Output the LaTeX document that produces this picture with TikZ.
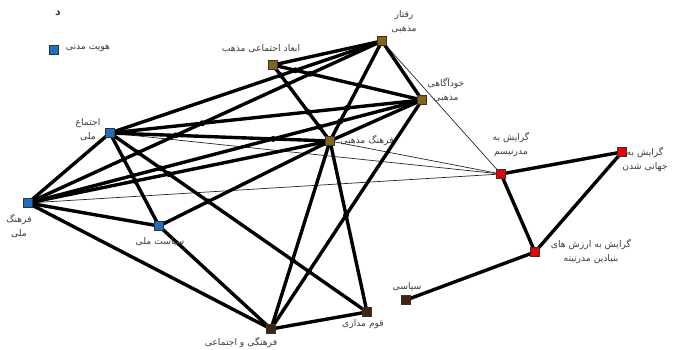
\documentclass[tikz,border=0pt]{standalone}
\usepackage{fontspec}
\newfontfamily\arabicfont[Script=Arabic]{DejaVu Sans}
\TeXXeTstate=1
\newcommand{\fa}[1]{{\arabicfont\beginR #1\endR}}
\definecolor{nblue}{RGB}{30,110,195}
\definecolor{nolive}{RGB}{135,100,20}
\definecolor{nbrown}{RGB}{66,36,14}
\definecolor{nred}{RGB}{235,0,0}
\definecolor{ntext}{RGB}{60,60,60}
\tikzset{
  sq/.style={draw=black!80, line width=0.4pt, minimum size=9pt, inner sep=0pt, rectangle},
  lbl/.style={text=ntext, font=\fontsize{9.2}{14}\selectfont, align=center, inner sep=0pt},
  strong/.style={line width=3.4pt, black},
  weak/.style={line width=0.7pt, black!85},
  xdot/.style={fill=black}
}
\begin{document}
\begin{tikzpicture}[x=1pt,y=-1pt]
\useasboundingbox (0,0) rectangle (673,350);
\coordinate (A) at (382,41);
\coordinate (B) at (273,65);
\coordinate (C) at (422,100);
\coordinate (D) at (330,141);
\coordinate (E) at (110,133);
\coordinate (F) at (28,203);
\coordinate (G) at (159,226);
\coordinate (H) at (271,329);
\coordinate (I) at (367,312);
\coordinate (J) at (406,300);
\coordinate (K) at (501,174);
\coordinate (L) at (622,152);
\coordinate (M) at (535,252);
% weak ties
\foreach \a/\b in {A/K,D/K,E/K,F/K}
  \draw[weak] (\a) -- (\b);
% strong ties
\foreach \a/\b in {A/B,A/C,A/D,A/E,A/F,B/C,B/D,C/E,C/F,C/D,C/H,D/E,D/F,D/G,D/H,D/I,E/F,E/G,E/I,F/G,F/H,G/H,H/I,J/M,K/L,K/M,L/M}
  \draw[strong] (\a) -- (\b);
% dots where strong ties cross
\fill[xdot] (intersection of A--D and B--C) circle[radius=3pt];
\fill[xdot] (intersection of A--D and C--E) circle[radius=3pt];
\fill[xdot] (intersection of A--D and C--F) circle[radius=3pt];
\fill[xdot] (intersection of A--E and B--C) circle[radius=3pt];
\fill[xdot] (intersection of A--E and B--D) circle[radius=3pt];
\fill[xdot] (intersection of A--F and B--C) circle[radius=3pt];
\fill[xdot] (intersection of A--F and B--D) circle[radius=3pt];
\fill[xdot] (intersection of A--F and C--E) circle[radius=3pt];
\fill[xdot] (intersection of A--F and D--E) circle[radius=3pt];
\fill[xdot] (intersection of A--F and E--G) circle[radius=3pt];
\fill[xdot] (intersection of A--F and E--I) circle[radius=3pt];
\fill[xdot] (intersection of B--D and C--E) circle[radius=3pt];
\fill[xdot] (intersection of B--D and C--F) circle[radius=3pt];
\fill[xdot] (intersection of C--F and D--E) circle[radius=3pt];
\fill[xdot] (intersection of C--F and E--G) circle[radius=3pt];
\fill[xdot] (intersection of C--F and E--I) circle[radius=3pt];
\fill[xdot] (intersection of C--H and D--I) circle[radius=3pt];
\fill[xdot] (intersection of C--H and E--I) circle[radius=3pt];
\fill[xdot] (intersection of D--F and E--G) circle[radius=3pt];
\fill[xdot] (intersection of D--F and E--I) circle[radius=3pt];
\fill[xdot] (intersection of D--G and E--I) circle[radius=3pt];
\fill[xdot] (intersection of D--H and E--I) circle[radius=3pt];
% squares
\node[sq, fill=nolive] (nA) at (A) {};
\node[sq, fill=nolive] (nB) at (B) {};
\node[sq, fill=nolive] (nC) at (C) {};
\node[sq, fill=nolive] (nD) at (D) {};
\node[sq, fill=nblue] (nE) at (E) {};
\node[sq, fill=nblue] (nF) at (F) {};
\node[sq, fill=nblue] (nG) at (G) {};
\node[sq, fill=nbrown] (nH) at (H) {};
\node[sq, fill=nbrown] (nI) at (I) {};
\node[sq, fill=nbrown] (nJ) at (J) {};
\node[sq, fill=nred] (nK) at (K) {};
\node[sq, fill=nred] (nL) at (L) {};
\node[sq, fill=nred] (nM) at (M) {};
\node[sq, fill=nblue] (leg) at (54,50) {};
% labels
\node[lbl, font=\fontsize{11}{12}\selectfont\bfseries] (title) at (58,13) {\fa{د}};
\node[lbl] (tleg) at (88,48) {\fa{هویت مدنی}};
\node[lbl] (tA) at (404,22) {\fa{رفتار}\\\fa{مذهبی}};
\node[lbl] (tB) at (261,49) {\fa{ابعاد اجتماعی مذهب}};
\node[lbl] (tC) at (446,90) {\fa{خودآگاهی}\\\fa{مذهبی}};
\node[lbl] (tD) at (367,141) {\fa{فرهنگ مذهبی}};
\node[lbl] (tE) at (88,130) {\fa{اجتماع}\\\fa{ملی}};
\node[lbl] (tF) at (19,226) {\fa{فرهنگ}\\\fa{ملی}};
\node[lbl] (tG) at (160,242) {\fa{سیاست ملی}};
\node[lbl] (tH) at (241,343) {\fa{فرهنگی و اجتماعی}};
\node[lbl] (tI) at (363,324) {\fa{قوم مداری}};
\node[lbl] (tJ) at (407,287) {\fa{سیاسی}};
\node[lbl] (tK) at (511,145) {\fa{گرایش به}\\\fa{مدرنیسم}};
\node[lbl] (tL) at (645,159) {\fa{گرایش به}\\\fa{جهانی شدن}};
\node[lbl] (tM) at (591,252) {\fa{گرایش به ارزش های}\\\fa{بنیادین مدرنیته}};
\end{tikzpicture}
\end{document}
